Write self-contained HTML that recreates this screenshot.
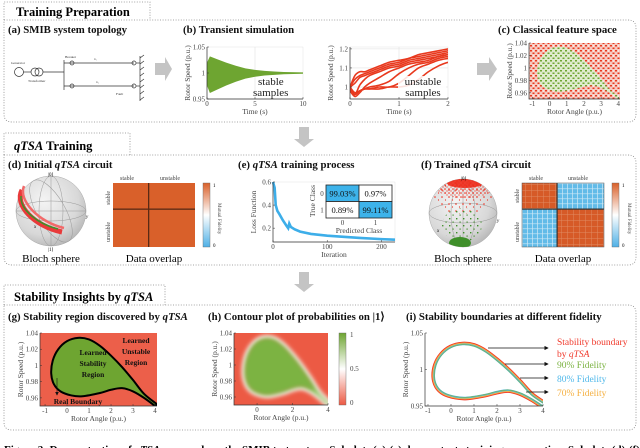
<!DOCTYPE html>
<html><head><meta charset="utf-8"><style>
html,body{margin:0;padding:0;background:#fff;}
svg{display:block;font-family:"Liberation Serif",serif;}
.t{font-weight:bold;font-size:10.8px;fill:#111}
.tk{font-size:7px;fill:#444}
.al{font-size:7.5px;fill:#444}
</style></head><body>
<svg id="fig" width="640" height="448" viewBox="0 0 640 448">
<defs>
<pattern id="redDots" width="5" height="5" patternUnits="userSpaceOnUse"><rect width="5" height="5" fill="#f6c9c0"/><rect x="0" y="0" width="2" height="1.5" fill="#e8391e"/><rect x="2.5" y="2.5" width="2" height="1.5" fill="#e8391e"/><rect x="3" y="0.5" width="1" height="1" fill="#fff"/></pattern>
<pattern id="greenDots" width="5" height="5" patternUnits="userSpaceOnUse"><rect width="5" height="5" fill="#dfeccd"/><rect x="0" y="0" width="2" height="1.5" fill="#6ea531"/><rect x="2.5" y="2.5" width="2" height="1.5" fill="#6ea531"/></pattern>
<pattern id="sRed" width="4" height="4" patternUnits="userSpaceOnUse"><circle cx="1" cy="1" r="0.8" fill="#ee2a1a"/><circle cx="3" cy="3" r="0.6" fill="#ee2a1a"/></pattern>
<pattern id="sRedSparse" width="7" height="7" patternUnits="userSpaceOnUse"><circle cx="1" cy="1" r="0.8" fill="#ee2a1a"/><circle cx="4.5" cy="4" r="0.6" fill="#ee2a1a"/></pattern>
<pattern id="sGreen" width="7" height="7" patternUnits="userSpaceOnUse"><rect x="1" y="1" width="1.4" height="1.4" fill="#3f8f2a"/><rect x="4.5" y="4.5" width="1.2" height="1.2" fill="#3f8f2a"/></pattern>
<pattern id="blueGrid" width="5" height="5" patternUnits="userSpaceOnUse"><rect width="5" height="5" fill="#62bbe8"/><rect x="2" width="0.7" height="5" fill="#cfe9f6"/><rect y="3.5" width="5" height="0.6" fill="#cfe9f6"/></pattern>
<pattern id="orGrid" width="6" height="6" patternUnits="userSpaceOnUse"><rect width="6" height="6" fill="#d65a27"/><rect x="3" width="0.5" height="6" fill="#e08a62"/><rect y="4" width="6" height="0.5" fill="#e08a62"/></pattern>
<radialGradient id="sph" cx="0.4" cy="0.35" r="0.7"><stop offset="0" stop-color="#f4f4f4"/><stop offset="0.7" stop-color="#d8d8d8"/><stop offset="1" stop-color="#b5b5b5"/></radialGradient>
<linearGradient id="cbar" x1="0" y1="0" x2="0" y2="1"><stop offset="0" stop-color="#d9602a"/><stop offset="0.5" stop-color="#ffffff"/><stop offset="1" stop-color="#4fb0e6"/></linearGradient>
<linearGradient id="cbarH" x1="0" y1="0" x2="0" y2="1"><stop offset="0" stop-color="#6ea531"/><stop offset="0.5" stop-color="#ffffff"/><stop offset="1" stop-color="#ec5a44"/></linearGradient>
<filter id="blur" x="-20%" y="-20%" width="140%" height="140%"><feGaussianBlur stdDeviation="2"/></filter>
<clipPath id="clipG"><rect x="40" y="333" width="117" height="73"/></clipPath>
<clipPath id="clipH"><rect x="234" y="333" width="94" height="72"/></clipPath>
<clipPath id="clipI"><rect x="425" y="333" width="118" height="73"/></clipPath>
<clipPath id="clipC"><rect x="529" y="43" width="91" height="56"/></clipPath>
<clipPath id="clipB2"><rect x="350" y="47" width="98" height="52"/></clipPath>
<clipPath id="clipSphF"><circle cx="463" cy="213" r="34"/></clipPath>
<marker id="ah" markerWidth="6" markerHeight="6" refX="5" refY="3" orient="auto"><path d="M0,0 L6,3 L0,6 z" fill="#111"/></marker>
</defs>

<g fill="none" stroke="#888" stroke-width="0.8" stroke-dasharray="1 1.6">
<path d="M4,20 V2 H150 V20"/>
<path d="M4,20 H628 Q636,20 636,28 V114 Q636,122 628,122 H12 Q4,122 4,114 Z"/>
<path d="M4,155 V133 H130 V155"/>
<path d="M4,155 H628 Q636,155 636,163 V257 Q636,265 628,265 H12 Q4,265 4,257 Z"/>
<path d="M4,305 V285 H165 V305"/>
<path d="M4,305 H628 Q636,305 636,313 V422 Q636,430 628,430 H12 Q4,430 4,422 Z"/>
</g>
<text x="16" y="16" font-size="12.5" font-weight="bold">Training Preparation</text>
<text x="14" y="150" font-size="12.5" font-weight="bold"><tspan font-style="italic">qTSA</tspan> Training</text>
<text x="14" y="301" font-size="12.5" font-weight="bold">Stability Insights by <tspan font-style="italic">qTSA</tspan></text>

<g fill="#c4c4c4">
<path d="M299,127 H309 V139 H314 L304,147 L294,139 H299 Z"/>
<path d="M299,272 H309 V284 H314 L304,292 L294,284 H299 Z"/>
<path d="M155,63 H165 V57 L172,69 L165,81 V75 H155 Z"/>
<path d="M477,63 H489 V57 L497,69 L489,81 V75 H477 Z"/>
</g>

<text class="t" x="8" y="33">(a) SMIB system topology</text>
<text class="t" x="183" y="33">(b) Transient simulation</text>
<text class="t" x="498" y="33">(c) Classical feature space</text>
<text class="t" x="8" y="168">(d) Initial <tspan font-style="italic">qTSA</tspan> circuit</text>
<text class="t" x="238" y="168">(e) <tspan font-style="italic">qTSA</tspan> training process</text>
<text class="t" x="421" y="168">(f) Trained <tspan font-style="italic">qTSA</tspan> circuit</text>
<text class="t" x="8" y="320">(g) Stability region discovered by <tspan font-style="italic">qTSA</tspan></text>
<text class="t" x="208" y="320">(h) Contour plot of probabilities on |1⟩</text>
<text class="t" x="406" y="320">(i) Stability boundaries at different fidelity</text>

<g stroke="#333" stroke-width="0.7" fill="none">
<circle cx="19" cy="72" r="4.5"/><line x1="23.5" y1="72" x2="31" y2="72"/>
<circle cx="35" cy="72" r="4"/><circle cx="39" cy="72" r="4"/>
<line x1="43" y1="72" x2="64" y2="72"/><line x1="64" y1="60" x2="64" y2="90"/>
<line x1="64" y1="63" x2="134" y2="63"/><line x1="64" y1="86" x2="134" y2="86"/>
<circle cx="72" cy="63" r="2"/><circle cx="72" cy="86" r="2"/><circle cx="134" cy="63" r="2"/><circle cx="134" cy="86" r="2"/>
<line x1="140" y1="56" x2="140" y2="101"/>
<path d="M140,58 l4,-3 M140,64 l4,-3 M140,70 l4,-3 M140,76 l4,-3 M140,82 l4,-3 M140,88 l4,-3 M140,94 l4,-3 M140,100 l4,-3"/>
<line x1="136" y1="63" x2="140" y2="63"/><line x1="136" y1="86" x2="140" y2="86"/>
</g>
<g font-size="3.5" fill="#333"><text x="11" y="64">Generator</text><text x="28" y="82">Transformer</text><text x="65" y="58">Breaker</text><text x="116" y="95">Fault</text><text x="94" y="60">x₁</text><text x="96" y="83">x₂</text></g>

<g id="plots"></g>

<g>
<circle cx="51" cy="211" r="35" fill="url(#sph)" stroke="#aaa" stroke-width="0.5"/>
<g fill="none" stroke="#999" stroke-width="0.5"><ellipse cx="51" cy="211" rx="35" ry="10"/><ellipse cx="51" cy="211" rx="12" ry="35"/><ellipse cx="51" cy="211" rx="35" ry="14" transform="rotate(60 51 211)"/><line x1="51" y1="176" x2="51" y2="246"/><line x1="16" y1="211" x2="86" y2="211"/></g>
<path d="M22,190 C14,205 34,226 62,232" stroke="#e83a3a" stroke-width="5" fill="none"/>
<path d="M24,186 C18,200 38,222 64,228" stroke="#f26a6a" stroke-width="2.5" fill="none"/>
<path d="M21,196 C20,210 38,224 58,229" stroke="#3f8f2a" stroke-width="1.5" fill="none"/>
<text x="48" y="176" font-size="5">|0⟩</text><text x="48" y="251" font-size="5">|1⟩</text><text x="34" y="228" font-size="5" font-style="italic">x</text><text x="86" y="218" font-size="5" font-style="italic">y</text>
</g>
<text x="51" y="262" font-size="11" text-anchor="middle">Bloch sphere</text>

<g>
<rect x="113" y="183" width="82" height="64" fill="#d9602a"/>
<rect x="148" y="183" width="1.3" height="64" fill="#5a2a15"/><rect x="113" y="208.5" width="82" height="1.3" fill="#5a2a15"/>
</g>
<g font-size="6" fill="#444"><text x="120" y="180">stable</text><text x="160" y="180">unstable</text>
<text transform="translate(110,205) rotate(-90)">stable</text><text transform="translate(110,242) rotate(-90)">unstable</text></g>
<rect x="203" y="183" width="7" height="64" fill="url(#cbar)" stroke="#666" stroke-width="0.4"/>
<text x="213" y="187" font-size="5">1</text><text x="213" y="247" font-size="5">0</text>
<text transform="translate(218,203) rotate(90)" font-size="5" fill="#444">Mutual Fidelity</text>
<text x="154" y="262" font-size="11" text-anchor="middle">Data overlap</text>

<g>
<circle cx="463" cy="213" r="34" fill="url(#sph)" stroke="#aaa" stroke-width="0.5"/>
<g fill="none" stroke="#999" stroke-width="0.5"><ellipse cx="463" cy="213" rx="34" ry="10"/><ellipse cx="463" cy="213" rx="12" ry="34"/><line x1="463" y1="179" x2="463" y2="247"/></g>
<g clip-path="url(#clipSphF)">
<ellipse cx="463" cy="196" rx="30" ry="18" fill="url(#sRedSparse)"/>
<ellipse cx="465" cy="188" rx="28" ry="10" fill="url(#sRed)"/>
<ellipse cx="465" cy="183" rx="18" ry="5" fill="#ee2a1a" opacity="0.9"/>
<ellipse cx="462" cy="225" rx="20" ry="17" fill="url(#sGreen)"/>
<ellipse cx="460" cy="243" rx="11" ry="6" fill="#3f8f2a"/>
</g>
<text x="461" y="180" font-size="5">|0⟩</text><text x="497" y="222" font-size="5" font-style="italic">y</text><text x="437" y="232" font-size="5" font-style="italic">x</text>
</g>
<text x="463" y="262" font-size="11" text-anchor="middle">Bloch sphere</text>

<g>
<rect x="522" y="183" width="35" height="26" fill="url(#orGrid)"/>
<rect x="557" y="183" width="47" height="26" fill="url(#blueGrid)"/>
<rect x="522" y="209" width="35" height="38" fill="url(#blueGrid)"/>
<rect x="557" y="209" width="47" height="38" fill="url(#orGrid)"/>
<rect x="556.5" y="183" width="1.2" height="64" fill="#333"/><rect x="522" y="208.5" width="82" height="1.2" fill="#333"/>
<rect x="522" y="183" width="82" height="64" fill="none" stroke="#555" stroke-width="0.5"/>
</g>
<g font-size="6" fill="#444"><text x="529" y="180">stable</text><text x="568" y="180">unstable</text>
<text transform="translate(519,203) rotate(-90)">stable</text><text transform="translate(519,242) rotate(-90)">unstable</text></g>
<rect x="612" y="183" width="7" height="64" fill="url(#cbar)" stroke="#666" stroke-width="0.4"/>
<text x="622" y="187" font-size="5">1</text><text x="622" y="247" font-size="5">0</text>
<text transform="translate(628,203) rotate(90)" font-size="5" fill="#444">Mutual Fidelity</text>
<text x="563" y="262" font-size="11" text-anchor="middle">Data overlap</text>

<text x="4" y="453" font-size="11" font-weight="bold">Figure 2: Demonstration of <tspan font-style="italic">qTSA</tspan> approach on the SMIB test system. Subplots (a)-(c) demonstrate training preparation. Subplots (d)-(f) demonstrate</text>
</svg>

<script>
const b1Times=[0,0.3,1,2,3,4,5,6,7,8,10];
const b1Amp=[0.02,0.032,0.027,0.02,0.014,0.009,0.006,0.004,0.003,0.002,0.0012];
const b2Times=[0,0.1,0.2,0.3,0.4,0.6,0.8,1.0,1.2,1.4,1.6,1.8,2.0];
const b2Series=[
 [1.0,1.06,1.08,1.08,1.09,1.11,1.13,1.14,1.15,1.17,1.18,1.19,1.2],
 [1.0,1.04,1.06,1.07,1.08,1.10,1.12,1.13,1.15,1.16,1.17,1.18,1.19],
 [1.0,1.02,1.05,1.06,1.07,1.09,1.11,1.12,1.14,1.15,1.16,1.17,1.18],
 [0.98,0.96,1.01,1.04,1.06,1.08,1.10,1.11,1.13,1.14,1.15,1.16,1.17],
 [0.98,0.95,0.97,1.0,1.02,1.05,1.08,1.10,1.12,1.13,1.14,1.16,1.17],
 [0.99,0.96,0.98,0.99,1.0,1.01,1.03,1.07,1.10,1.12,1.13,1.15,1.16],
 [0.99,0.97,0.98,0.99,0.99,1.0,1.0,1.02,1.06,1.10,1.12,1.14,1.15],
 [1.0,0.97,0.98,0.99,0.99,0.99,1.0,1.0,1.01,1.04,1.08,1.11,1.13]
];
const lossIter=[0,3,5,8,12,18,25,28,30,33,40,50,70,100,130,160,200,225];
const lossVal=[0.6,0.55,0.4,0.35,0.32,0.27,0.22,0.2,0.24,0.21,0.19,0.17,0.15,0.135,0.125,0.115,0.105,0.1];
const confLabels=["99.03%","0.97%","0.89%","99.11%"];
const boundAngle=[4.05,3.5,3.0,2.5,2.0,1.5,1.0,0.5,0.0,-0.4,-0.65,-0.72,-0.6,-0.3,0.2,0.7,1.5,2.0,2.5,3.0,3.5,4.05];
const boundSpeed=[0.953,0.965,0.982,0.998,1.012,1.024,1.032,1.034,1.030,1.020,1.006,0.990,0.977,0.968,0.963,0.962,0.966,0.970,0.972,0.968,0.960,0.949];
const fidelityLabels=["Stability boundary","90% Fidelity","80% Fidelity","70% Fidelity"];
const fidelityColors=["#f0392b","#7cb342","#4fb8ea","#f5b041"];

const NS="http://www.w3.org/2000/svg";
const root=document.getElementById('plots');
function el(tag,attrs,parent){const e=document.createElementNS(NS,tag);for(const k in attrs)e.setAttribute(k,attrs[k]);(parent||root).appendChild(e);return e;}
function txt(x,y,s,cls,anchor,parent){const t=el('text',{x:x,y:y,class:cls||'tk','text-anchor':anchor||'middle'},parent);t.textContent=s;return t;}
function scale(d0,d1,r0,r1){return v=>r0+(v-d0)/(d1-d0)*(r1-r0);}
function smooth(pts,closed){let d='M'+pts[0][0]+','+pts[0][1];const n=pts.length;
 for(let i=0;i<n-1;i++){const p0=pts[Math.max(0,i-1)],p1=pts[i],p2=pts[i+1],p3=pts[Math.min(n-1,i+2)];
 d+=' C'+(p1[0]+(p2[0]-p0[0])/6)+','+(p1[1]+(p2[1]-p0[1])/6)+' '+(p2[0]-(p3[0]-p1[0])/6)+','+(p2[1]-(p3[1]-p1[1])/6)+' '+p2[0]+','+p2[1];}
 return d+(closed?' Z':'');}
function axes(x0,y0,x1,y1,name,xt,yt,xs,ys,xl,yl){
 const g=el('g',{});
 el('path',{d:`M${x0},${y0} V${y1} H${x1}`,fill:'none',stroke:'#333','stroke-width':0.7},g);
 xt.forEach(v=>{el('line',{x1:xs(v),x2:xs(v),y1:y1,y2:y1-2,stroke:'#333','stroke-width':0.5},g);txt(xs(v),y1+7,String(v),'tk','middle',g);});
 yt.forEach(v=>{el('line',{x1:x0,x2:x0+2,y1:ys(v),y2:ys(v),stroke:'#333','stroke-width':0.5},g);txt(x0-2,ys(v)+2.5,String(v),'tk','end',g);});
 if(xl){txt((x0+x1)/2,y1+15,xl,'al','middle',g);}
 if(yl){const t=txt(0,0,yl,'al','middle',g);t.setAttribute('transform',`translate(${x0-17},${(y0+y1)/2}) rotate(-90)`);}
 return g;}

{const xs=scale(0,10,207,303),ys=scale(0.95,1.05,99,47);
 el('rect',{x:207,y:47,width:96,height:52,fill:'#fff',stroke:'#ddd','stroke-width':0.4});
 el('line',{x1:xs(5),x2:xs(5),y1:47,y2:99,stroke:'#ddd','stroke-width':0.5});
 el('line',{x1:207,x2:303,y1:ys(1),y2:ys(1),stroke:'#ddd','stroke-width':0.5});
 const top=b1Times.map((t,i)=>[xs(t),ys(1+b1Amp[i])]);
 const bot=b1Times.map((t,i)=>[xs(t),ys(1-b1Amp[i]*1.2)]).reverse();
 const p=el('path',{d:'M'+top.concat(bot).map(p=>p.join(',')).join(' L')+' Z',fill:'#6ea531'});
 
 
 axes(207,47,303,99,'axes-b1',[0,5,10],[1.05,1,0.95],xs,ys,'Time (s)','Rotor Speed (p.u.)');
 txt(258,85,'stable','','start').setAttribute('style','font-size:11px;fill:#222');
 txt(253,96,'samples','','start').setAttribute('style','font-size:11px;fill:#222');}

{const xs=scale(0,2,350,448),ys=scale(0.937,1.21,99,47);
 el('rect',{x:350,y:47,width:98,height:52,fill:'#fff',stroke:'#ddd','stroke-width':0.4});
 [1,1.1,1.2].forEach(v=>el('line',{x1:350,x2:448,y1:ys(v),y2:ys(v),stroke:'#ddd','stroke-width':0.5}));
 el('line',{x1:xs(1),x2:xs(1),y1:47,y2:99,stroke:'#ddd','stroke-width':0.5});
 const g=el('g',{'clip-path':'url(#clipB2)'});
 b2Series.forEach((s,k)=>{const pts=b2Times.map((t,i)=>[xs(t),ys(s[i])]);
  const p=el('path',{d:smooth(pts,false),fill:'none',stroke:'#e8391e','stroke-width':1.6},g);
  
  });
 axes(350,47,448,99,'axes-b2',[0,1,2],[1.2,1.1,1],xs,ys,'Time (s)','Rotor Speed (p.u.)');
 el('rect',{x:398,y:76,width:48,height:21,fill:'#fff',opacity:0.85});
 txt(423,85,'unstable').setAttribute('style','font-size:11px;fill:#222');
 txt(423,96,'samples').setAttribute('style','font-size:11px;fill:#222');}

{const xs=scale(-1.2,4.1,529,620),ys=scale(0.95,1.04,99,43);
 el('rect',{x:529,y:43,width:91,height:56,fill:'url(#redDots)'});
 const pts=boundAngle.map((a,i)=>[xs(a),ys(boundSpeed[i])]);
 const p=el('path',{d:smooth(pts,true),fill:'url(#greenDots)','clip-path':'url(#clipC)'});
 
 
 axes(529,43,620,99,'axes-c',[-1,0,1,2,3,4],[1.04,1.02,1,0.98,0.96],xs,ys,'Rotor Angle (p.u.)','Rotor Speed (p.u.)');}

{const xs=scale(0,225,273,395),ys=scale(0.08,0.6,242,182);
 el('rect',{x:273,y:182,width:122,height:60,fill:'#fff',stroke:'#ddd','stroke-width':0.4});
 const pts=lossIter.map((t,i)=>[xs(t),ys(lossVal[i])]);
 const p=el('path',{d:'M'+pts.map(p=>p.join(',')).join(' L'),fill:'none',stroke:'#3daee9','stroke-width':2.6});
 
 
 axes(273,182,395,242,'axes-e',[0,100,200],[0.6,0.4,0.2],xs,ys,'Iteration','Loss Function');
 const cx=326,cy=185,cw=33,ch=16.5;
 confLabels.forEach((s,i)=>{const r=Math.floor(i/2),c=i%2;
  const rc=el('rect',{x:cx+c*cw,y:cy+r*ch,width:cw,height:ch,fill:(r===c)?'#3db3ea':'#fff',stroke:'#222','stroke-width':0.8});
  
  
  txt(cx+c*cw+cw/2,cy+r*ch+11.5,s).setAttribute('style','font-size:8.5px;fill:#111');});
 txt(322,cy+11,'0');txt(322,cy+ch+11,'1');
 txt(cx+cw/2,225,'0');txt(cx+cw*1.5,225,'1');
 const t=txt(0,0,'True Class','al');t.setAttribute('transform','translate(315,201) rotate(-90)');
 txt(359,233,'Predicted Class','al');}

{const xs=scale(-1.23,4.09,40,157),ys=scale(0.95,1.04,406,333);
 el('rect',{x:40,y:333,width:117,height:73,fill:'#ec5f4a'});
 const pts=boundAngle.map((a,i)=>[xs(a),ys(boundSpeed[i])]);
 const p=el('path',{d:smooth(pts,true),fill:'#6ea531',stroke:'#000','stroke-width':2,'clip-path':'url(#clipG)'});
 
 
 axes(40,333,157,406,'axes-g',[-1,0,1,2,3,4],[1.04,1.02,1,0.98,0.96],xs,ys,'Rotor Angle (p.u.)','Rotor Speed (p.u.)');
 const f='font-size:7.5px;font-weight:bold;fill:#111';
 [['Learned',93,355],['Stability',93,366],['Region',93,377]].forEach(a=>txt(a[1],a[2],a[0]).setAttribute('style',f));
 [['Learned',136,343],['Unstable',136,354],['Region',136,365]].forEach(a=>txt(a[1],a[2],a[0]).setAttribute('style',f));
 txt(78,404,'Real Boundary').setAttribute('style',f);
 el('line',{x1:57,y1:378,x2:57,y2:395,stroke:'#111','stroke-width':0.6,'marker-end':'url(#ah)'});}

{const xs=scale(-1.3,4,234,328),ys=scale(0.95,1.04,405,333);
 el('rect',{x:234,y:333,width:94,height:72,fill:'#ec5a44'});
 const pts=boundAngle.map((a,i)=>[xs(a),ys(boundSpeed[i])]);
 const g=el('g',{'clip-path':'url(#clipH)'});
 el('path',{d:smooth(pts,true),fill:'none',stroke:'#fff','stroke-width':5,filter:'url(#blur)'},g);
 const p=el('path',{d:smooth(pts,true),fill:'#7cb342',filter:'url(#blur)'},g);
 
 
 axes(234,333,328,405,'axes-h',[0,2,4],[1.04,1.02,1,0.98,0.96],xs,ys,'Rotor Angle (p.u.)','Rotor Speed (p.u.)');
 const cb=el('rect',{x:339,y:333,width:7,height:72,fill:'url(#cbarH)',stroke:'#666','stroke-width':0.4});
 
 
 txt(350,337,'1','tk','start');txt(350,371,'0.5','tk','start');txt(350,405,'0','tk','start');}

{const xs=scale(-1.13,4,425,543),ys=scale(0.95,1.05,406,333);
 const pts=boundAngle.map((a,i)=>[xs(a),ys(boundSpeed[i]*0.999+0.001)]);
 const g=el('g',{'clip-path':'url(#clipI)'});
 const widths=[6,1.2,2.2,4.2];const order=[0,3,2,1];
 order.forEach(k=>{const p=el('path',{d:smooth(pts,true),fill:'none',stroke:fidelityColors[k],'stroke-width':widths[k]},g);
  
  });
 el('path',{d:smooth(pts,true),fill:'#fff',stroke:'none'},g);
 el('path',{d:smooth(pts,true),fill:'none',stroke:'#4fb8ea','stroke-width':1.2},g);
 el('path',{d:smooth(pts,true),fill:'none',stroke:'#7cb342','stroke-width':0.6},g);
 axes(425,333,543,406,'axes-i',[-1,0,1,2,3,4],[1.05,1,0.95],xs,ys,'Rotor Angle (p.u.)','Rotor Speed (p.u.)');
 const ay=[348,364,378,392],ax0=[488,505,520,526];
 fidelityLabels.forEach((s,k)=>{
  el('line',{x1:ax0[k],y1:ay[k],x2:548,y2:ay[k],stroke:'#111','stroke-width':0.7,'marker-end':'url(#ah)'});
  const t=txt(557,k===0?345:ay[k]+4,s,'','start');t.setAttribute('style','font-size:9.5px;fill:'+fidelityColors[k]);
  
  });
 const t2=txt(557,357,'by ','','start');t2.setAttribute('style','font-size:9.5px;fill:#f0392b');
 const ts=document.createElementNS(NS,'tspan');ts.setAttribute('font-style','italic');ts.textContent='qTSA';t2.appendChild(ts);}
</script>
</body></html>
